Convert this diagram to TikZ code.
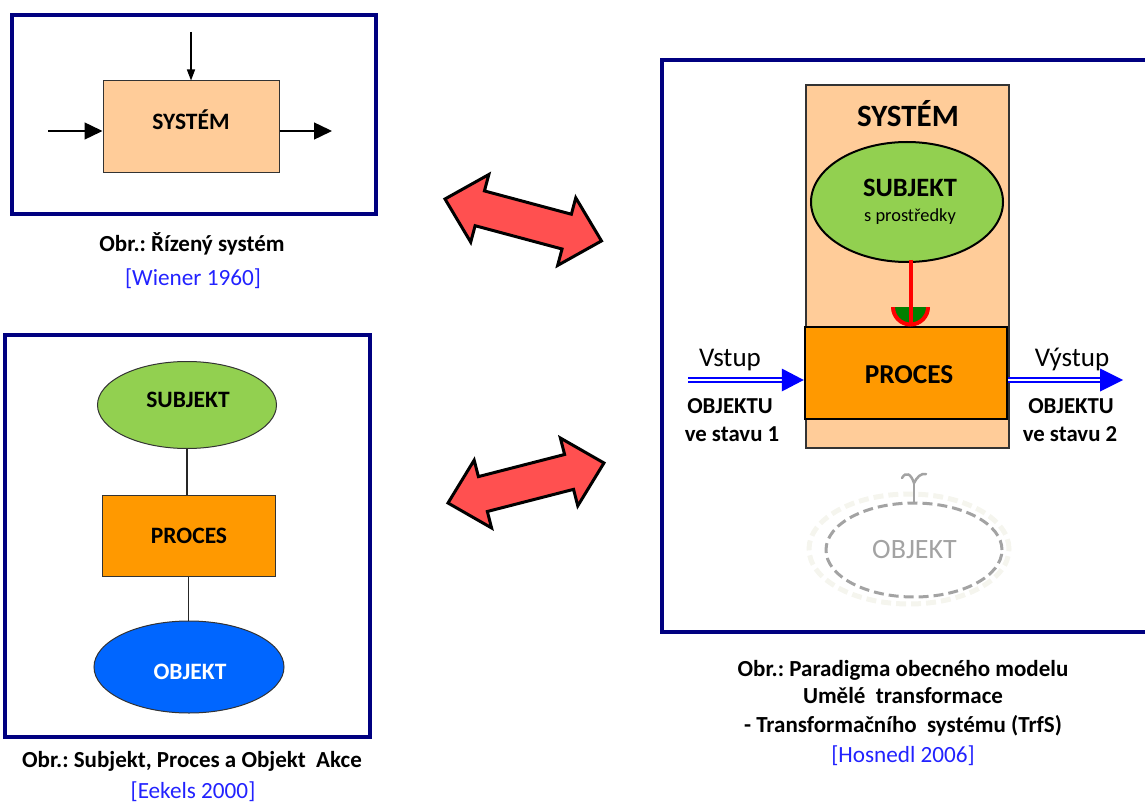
\documentclass[tikz,border=0pt]{standalone}
\usepackage{fontspec}
\setmainfont{Carlito}
\usetikzlibrary{shapes.geometric,arrows.meta,calc}
\definecolor{navy}{HTML}{000080}
\definecolor{peach}{HTML}{FFCC99}
\definecolor{leaf}{HTML}{92D050}
\definecolor{amber}{HTML}{FF9900}
\definecolor{azure}{HTML}{0066FF}
\definecolor{coral}{HTML}{FF5050}
\definecolor{citeblue}{HTML}{2222FF}
\definecolor{ghost}{HTML}{A3A3A3}
\definecolor{halo}{HTML}{F5F5EE}
\definecolor{cupgreen}{HTML}{008000}
\newcommand{\fsz}[2]{\fontsize{#1}{#2}\selectfont}
% double-headed block arrow along the local x axis, tip at the origin
\newcommand{\blockarrow}[1]{%
  \filldraw[fill=coral,draw=black,line width=3,line join=miter]
    (0,0) -- (36,35) -- (36,18) -- (#1-36,18) -- (#1-36,35) -- (#1,0)
    -- (#1-36,-35) -- (#1-36,-18) -- (36,-18) -- (36,-35) -- cycle;}
\frenchspacing
\begin{document}
\begin{tikzpicture}[x=1pt,y=-1pt,
  frame/.style={draw=navy,line width=3.5},
  flatbox/.style={rectangle,draw=black!80,line width=1,inner sep=0},
  oval/.style={ellipse,draw=black!80,line width=1,inner sep=0},
  lbl/.style={anchor=base,inner sep=0,font=\bfseries\fsz{23.5}{27}},
  capt/.style={anchor=base,inner sep=0,font=\bfseries\fsz{23}{27}},
  citetxt/.style={anchor=base,inner sep=0,text=citeblue,font=\fsz{23.2}{27}},
  link/.style={draw=black!85,line width=1.3},
  bigtip/.style={-{Triangle[length=18,width=17]}},
  flow/.style={draw=blue,line width=2,double=white,double distance=2.5},
]
\useasboundingbox (0,0) rectangle (1145,802);

% ---- controlled system (Wiener) ----
\draw[frame] (12,15) rectangle (376,214);
\node[flatbox,fill=peach,minimum width=176,minimum height=92] (sysA) at (191,127) {};
\node[lbl] (sysAt) at (191,130) {SYSTÉM};
\coordinate (ctrl) at (191,32);
\coordinate (inA) at (48,131);
\coordinate (outA) at (332,131);
\draw[line width=1.4,-{Triangle[length=11,width=8]}] (ctrl) -- (sysA.north);
\draw[line width=1.4,bigtip] (inA) -- (inA -| sysA.west);
\draw[line width=1.4,bigtip] (outA -| sysA.east) -- (outA);
\node[capt] (capA) at (192,252) {Obr.: Řízený systém};
\node[citetxt] (citeA) at (193,285) {[Wiener 1960]};

% ---- subject, process, object (Eekels) ----
\draw[frame] (5,335) rectangle (370,737);
\node[oval,fill=leaf,minimum width=179,minimum height=87] (subjB) at (187,405) {};
\node[flatbox,fill=amber,minimum width=173,minimum height=81] (procB) at (188.5,535.5) {};
\node[oval,fill=azure,minimum width=190,minimum height=92] (objB) at (189,667) {};
\node[lbl] (subjBt) at (188,407) {SUBJEKT};
\node[lbl] (procBt) at (189,543) {PROCES};
\node[lbl,text=white] (objBt) at (190,679) {OBJEKT};
\draw[link] (subjB.south) -- (subjB.south |- procB.north);
\draw[link] (procB.south) -- (procB.south |- objB.north);
\node[capt] (capB) at (192,767) {Obr.: Subjekt, Proces a Objekt~ Akce};
\node[citetxt] (citeB) at (193,798) {[Eekels 2000]};

% ---- red double arrows ----
\begin{scope}[shift={(445,199)},rotate=-15]
  \blockarrow{162}
\end{scope}
\begin{scope}[shift={(448,503)},rotate=14.4]
  \blockarrow{161}
\end{scope}

% ---- transformation system (Hosnedl) ----
\draw[frame] (1147,60) -- (662,60) -- (662,632) -- (1147,632);
\node[flatbox,fill=peach,line width=1.3,minimum width=203,minimum height=363] (sysC) at (907.5,266.5) {};
\node[lbl,font=\bfseries\fsz{31}{35}] (sysCt) at (908,127) {SYSTÉM};
\node[oval,fill=leaf,draw=black,line width=2,minimum width=192,minimum height=120] (subjC) at (907,202) {};
\node[lbl,font=\bfseries\fsz{26.5}{30}] (subjCt) at (910,197) {SUBJEKT};
\node[anchor=base,inner sep=0,font=\fsz{18.4}{22}] (meansC) at (910,222) {s prostředky};
\node[rectangle,draw=black,line width=2.5,fill=amber,minimum width=202,minimum height=92,inner sep=0] (procC) at (906,373) {};
\node[lbl,font=\bfseries\fsz{27.3}{31}] (procCt) at (909,383) {PROCES};

% action of the subject on the process
\coordinate (cupc) at (910.5,307);
\begin{scope}
  \clip (888,307) rectangle (933,332);
  \fill[cupgreen] (cupc) circle (19);
  \draw[red,line width=4] (cupc) circle (17.5);
\end{scope}
\draw[red,line width=4] ([yshift=3]subjC.south -| cupc) -- (procC.north -| cupc);

% input and output of the object
\coordinate (vin) at (688,380);
\coordinate (vout) at (1123,380);
\draw[flow] (vin) -- ($(procC.west |- vin)+(-21,0)$);
\fill[blue] (procC.west |- vin) -- ++(-22,-11.5) -- ++(0,23) -- cycle;
\draw[flow] (procC.east |- vout) -- ($(vout)+(-22,0)$);
\fill[blue] (vout) -- ++(-23,-11.5) -- ++(0,23) -- cycle;
\node[anchor=base,inner sep=0,font=\fsz{27}{31}] (vinT) at (730,366) {Vstup};
\node[anchor=base,inner sep=0,font=\fsz{27}{31}] (voutT) at (1072,366) {Výstup};
\node[lbl,font=\bfseries\fsz{22.8}{26}] (vinO) at (730,413) {OBJEKTU};
\node[lbl,font=\bfseries\fsz{22.8}{26}] (vinS) at (732,441) {ve stavu 1};
\node[lbl,font=\bfseries\fsz{22.8}{26}] (voutO) at (1071,413) {OBJEKTU};
\node[lbl,font=\bfseries\fsz{22.8}{26}] (voutS) at (1070,441) {ve stavu 2};

% faded object below the system
\node[ellipse,draw=halo,line width=5,dash pattern=on 10pt off 5pt,minimum width=200,minimum height=110,inner sep=0] (objHalo) at (909,549) {};
\node[ellipse,draw=ghost,line width=3,dash pattern=on 10pt off 5pt,minimum width=176,minimum height=94,inner sep=0] (objC) at (914,550) {};
\node[anchor=base,inner sep=0,text=ghost,font=\fsz{28}{32}] (objCt) at (914.5,558) {OBJEKT};
\draw[ghost,line width=2.5] (objC.north) -- (914,483);
\draw[ghost,line width=2.5,line cap=round] (902,478) .. controls (906,471) and (911,474) .. (914,483) .. controls (917,477) and (921,473) .. (926,474);

\node[capt] (capC1) at (903,676) {Obr.: Paradigma obecného modelu};
\node[capt] (capC2) at (903,703) {Umělé~ transformace};
\node[capt] (capC3) at (903,732) {- Transformačního~ systému (TrfS)};
\node[citetxt] (citeC) at (903,762) {[Hosnedl 2006]};
\end{tikzpicture}
\end{document}
